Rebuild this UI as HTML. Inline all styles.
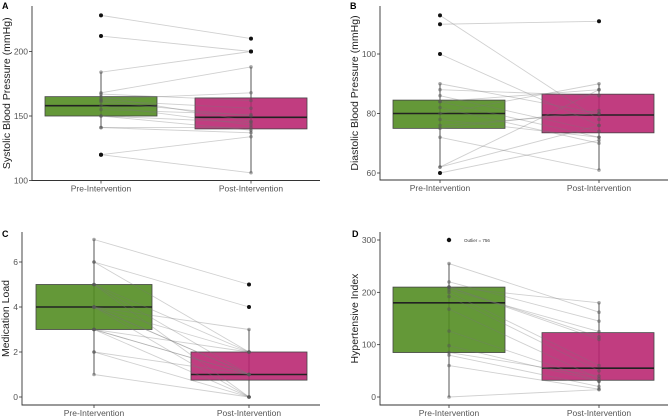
<!DOCTYPE html>
<html><head><meta charset="utf-8"><style>
html,body{margin:0;padding:0;background:#fff;}
svg{display:block;font-family:"Liberation Sans",sans-serif;}
</style></head><body>
<svg id="chart" width="669" height="419" viewBox="0 0 669 419"></svg>
<script>
const categories = ["Pre-Intervention","Post-Intervention"];
// Panel A: systolic
const aPre  = [228,212,184,168,163,162,161,158,155,150,150,141,141,120,120,167,165];
const aPost = [210,200,200,188,168,156,150,143,151,145,139,141,137,134,106,162,146];
const aStats = [[141,150,158,165,184],[106,140,149,164,188]];
const aTicks = [100,150,200];
// Panel B: diastolic
const bPre  = [113,110,100,90,86,84,84,82,80,78,76,75,72,62,62,60,88];
const bPost = [78,111,76,80,74,88,72,70,90,72,80,81,61,88,76,71,86];
const bStats = [[62,75,80,84.5,90],[61,73.5,79.5,86.5,90]];
const bTicks = [60,80,100];
// Panel C: medication load
const cPre  = [7,6,6,5,5,4,4,4,4,4,3,3,3,3,2,2,1,5];
const cPost = [5,4,2,2,1,3,2,1,1,0,2,1,1,0,1,0,0,0];
const cStats = [[1,3,4,5,7],[0,0.75,1,2,3]];
const cTicks = [0,2,4,6];
// Panel D: hypertensive index
const dPre  = [255,220,210,210,200,192,168,126,98,85,80,60,0,205,210];
const dPost = [162,145,115,110,60,50,35,30,30,40,20,15,14,125,180];
const dStats = [[0,85,180,210,255],[14,32,55,123,180]];
const dTicks = [0,100,200,300];

const NS="http://www.w3.org/2000/svg";
const svg=document.getElementById('chart');
function mk(tag,attrs,parent){const e=document.createElementNS(NS,tag);for(const k in attrs)e.setAttribute(k,attrs[k]);(parent||svg).appendChild(e);return e;}

function panel(cfg){
  const g=mk('g',{});
  
  
  const y=v=>cfg.y0+(v-cfg.v0)*(cfg.y1-cfg.y0)/(cfg.v1-cfg.v0);
  const xs=cfg.xs;
  const fills=['#4f8a1c','#b8226e'];
  cfg.stats.forEach((s,i)=>{
    const wl=mk('line',{x1:xs[i],x2:xs[i],y1:y(s[0]),y2:y(s[4]),stroke:'#555','stroke-width':1},g);
    
    
    const r=mk('rect',{x:cfg.bx[i],y:y(s[3]),width:cfg.bw,height:y(s[1])-y(s[3]),fill:fills[i],'fill-opacity':0.88,stroke:'#444','stroke-width':0.8},g);
    
    
    const m=mk('line',{x1:cfg.bx[i],x2:cfg.bx[i]+cfg.bw,y1:y(s[2]),y2:y(s[2]),stroke:'#222','stroke-width':1.6},g);
    
    
  });
  const n=Math.min(cfg.pre.length,cfg.post.length);
  for(let i=0;i<n;i++){
    const l=mk('line',{x1:xs[0],y1:y(cfg.pre[i]),x2:xs[1],y2:y(cfg.post[i]),stroke:'#777','stroke-opacity':0.35,'stroke-width':0.9},g);
    
    
  }
  [cfg.pre,cfg.post].forEach((arr,i)=>{
    const s=cfg.stats[i];
    arr.forEach(v=>{
      const out=v<s[0]||v>s[4];
      const c=mk('circle',{cx:xs[i],cy:y(v),r:out?2:1.8,fill:out?'#111':'#555','fill-opacity':out?1:0.5},g);
      
      
    });
  });
  if(cfg.extra){cfg.extra(g,y);}
  const ax=mk('path',{d:`M${cfg.ax},${cfg.axTop}V${cfg.axBot}H${cfg.axRight}`,fill:'none',stroke:'#333','stroke-width':0.9},g);
  
  
  cfg.ticks.forEach(t=>{
    mk('line',{x1:cfg.ax-3,x2:cfg.ax,y1:y(t),y2:y(t),stroke:'#333','stroke-width':0.8},g);
    const tx=mk('text',{x:cfg.ax-4,y:y(t)+3,'text-anchor':'end','font-size':8.5,fill:'#555'},g);
    tx.textContent=t;
    
    
  });
  categories.forEach((c,i)=>{
    mk('line',{x1:xs[i],x2:xs[i],y1:cfg.axBot,y2:cfg.axBot+3,stroke:'#333','stroke-width':0.8},g);
    const tx=mk('text',{x:xs[i],y:cfg.axBot+11,'text-anchor':'middle','font-size':8.5,fill:'#555'},g);
    tx.textContent=c;
    
    
  });
  const ty=(cfg.axTop+cfg.axBot)/2;
  const tt=mk('text',{x:cfg.titleX,y:ty,'text-anchor':'middle','font-size':10.5,fill:'#222',transform:`rotate(-90 ${cfg.titleX} ${ty})`},g);
  tt.textContent=cfg.title;
  
  
  const pl=mk('text',{x:cfg.lblX,y:cfg.lblY,'font-size':9,'font-weight':'bold',fill:'#000'},g);
  pl.textContent=cfg.label;
  
  
}

panel({name:'panel-a-systolic',pre:aPre,post:aPost,stats:aStats,ticks:aTicks,v0:100,v1:200,y0:180.5,y1:51.5,
  xs:[101,251],bx:[45,195],bw:112,ax:32,axTop:6,axBot:180.5,axRight:320,titleX:10,title:'Systolic Blood Pressure (mmHg)',label:'A',lblX:2,lblY:9});
panel({name:'panel-b-diastolic',pre:bPre,post:bPost,stats:bStats,ticks:bTicks,v0:60,v1:100,y0:173,y1:54,
  xs:[440,599],bx:[393,542],bw:112,ax:380,axTop:6,axBot:180,axRight:668,titleX:358,title:'Diastolic Blood Pressure (mmHg)',label:'B',lblX:350,lblY:9});
panel({name:'panel-c-medication',pre:cPre,post:cPost,stats:cStats,ticks:cTicks,v0:0,v1:6,y0:397,y1:262,
  xs:[94,249],bx:[36,191],bw:116,ax:22,axTop:232,axBot:405,axRight:320,titleX:9,title:'Medication Load',label:'C',lblX:2,lblY:237});
panel({name:'panel-d-hypertensive',pre:dPre,post:dPost,stats:dStats,ticks:dTicks,v0:0,v1:300,y0:397,y1:240,
  xs:[449,599],bx:[393,542],bw:112,ax:380,axTop:232,axBot:405,axRight:668,titleX:358,title:'Hypertensive Index',label:'D',lblX:352,lblY:237,
  extra:(g,y)=>{
    const c=mk('circle',{cx:449,cy:y(300),r:2.2,fill:'#111'},g);
    
    
    const t=mk('text',{x:464,y:y(300)+2,'font-size':4.5,fill:'#333'},g);
    t.textContent='Outlier = 756';
    
    
  }});
</script>
</body></html>
